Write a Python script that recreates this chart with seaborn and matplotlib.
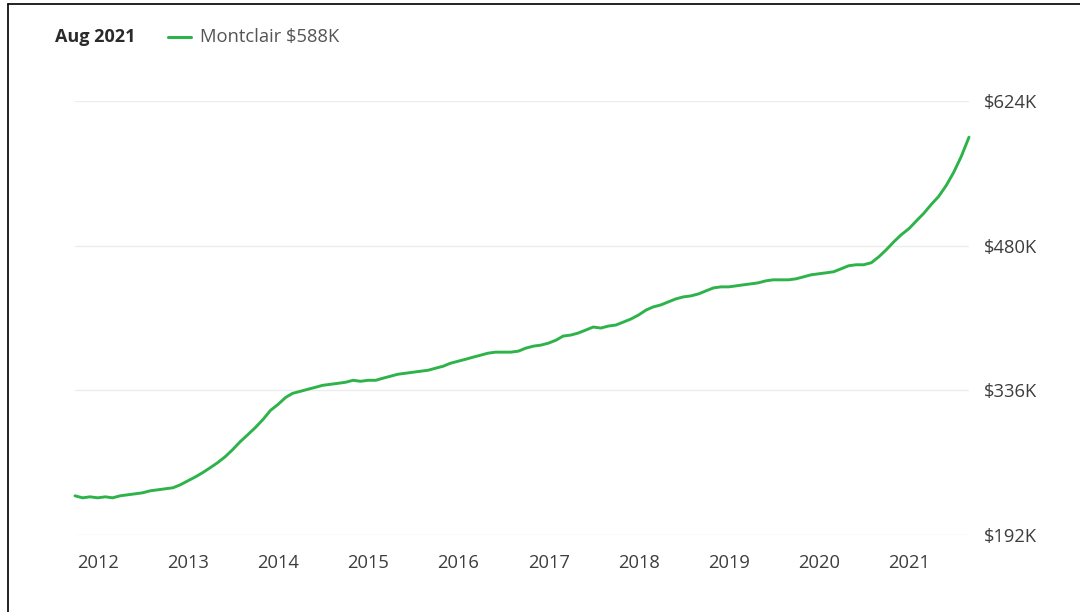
import numpy as np
import pandas as pd
import matplotlib
matplotlib.use("Agg")
import matplotlib.pyplot as plt
import matplotlib.dates as mdates
from matplotlib.lines import Line2D
import seaborn as sns

# ---- data (home value index, $K, monthly Sep 2011 .. Aug 2021) ----
start_month = "2011-09-30"
values_k = [
    231, 229, 230, 229, 230, 229, 231, 232, 233, 234, 236, 237,
    238, 239, 242, 246, 250, 254, 259, 264, 270, 277, 285, 292,
    299, 307, 316, 322, 329, 333, 335, 337, 339, 341, 342, 343,
    344, 346, 345, 346, 346, 348, 350, 352, 353, 354, 355, 356,
    358, 360, 363, 365, 367, 369, 371, 373, 374, 374, 374, 375,
    378, 380, 381, 383, 386, 390, 391, 393, 396, 399, 398, 400,
    401, 404, 407, 411, 416, 419, 421, 424, 427, 429, 430, 432,
    435, 438, 439, 439, 440, 441, 442, 443, 445, 446, 446, 446,
    447, 449, 451, 452, 453, 454, 457, 460, 461, 461, 463, 469,
    476, 484, 491, 497, 505, 512, 521, 529, 540, 553, 569, 588,
]
series_name = "Montclair"
y_ticks = [192, 336, 480, 624]
y_tick_labels = ["$192K", "$336K", "$480K", "$624K"]
x_tick_years = list(range(2012, 2022))
header_label = "Aug 2021"
legend_label = "Montclair $588K"

dates = pd.date_range(start_month, periods=len(values_k), freq="ME")
df = pd.DataFrame({"date": dates, "value": values_k, "region": series_name})

sns.set_style("white")
plt.rcParams["font.family"] = ["Open Sans", "DejaVu Sans"]

GREEN = "#2db34a"
TXT = "#3d3d3d"

fig = plt.figure(figsize=(10.8, 6.12), dpi=100)
ax = fig.add_axes([75 / 1080, 1 - 535 / 612, (969 - 75) / 1080, (535 - 101) / 612])

sns.lineplot(data=df, x="date", y="value", ax=ax, color=GREEN, linewidth=2.1,
             legend=False, clip_on=False)

ax.set_xlim(dates[0], dates[-1])
ax.set_ylim(y_ticks[0], y_ticks[-1])
ax.set_xlabel("")
ax.set_ylabel("")

ax.set_yticks(y_ticks)
ax.set_yticklabels(y_tick_labels)
ax.yaxis.tick_right()
ax.set_xticks([pd.Timestamp(f"{y}-01-01") for y in x_tick_years])
ax.set_xticklabels([str(y) for y in x_tick_years])
ax.tick_params(axis="y", length=0, pad=11, labelsize=13.2, labelcolor=TXT)
ax.tick_params(axis="x", length=0, pad=14, labelsize=13.2, labelcolor=TXT)

ax.grid(axis="y", color="#ececec", linewidth=1.0)
ax.grid(axis="x", visible=False)
for s in ax.spines.values():
    s.set_visible(False)

# header legend
fig.text(55 / 1080, 1 - 37 / 612, header_label, fontsize=13, fontweight="bold",
         color="#2a2a2a", va="center", ha="left")
fig.add_artist(Line2D([168 / 1080, 191 / 1080], [1 - 37 / 612, 1 - 37 / 612],
                      color=GREEN, linewidth=2.2, transform=fig.transFigure))
fig.text(200 / 1080, 1 - 37 / 612, legend_label, fontsize=13.2, color="#555555",
         va="center", ha="left")

# frame (left and top edges)
fig.add_artist(Line2D([7.5 / 1080, 7.5 / 1080], [0, 1 - 3.5 / 612], color="#111111",
                      linewidth=1.3, transform=fig.transFigure))
fig.add_artist(Line2D([7.5 / 1080, 1], [1 - 3.5 / 612, 1 - 3.5 / 612], color="#111111",
                      linewidth=1.3, transform=fig.transFigure))

fig.savefig("out.png", dpi=100, facecolor="white")
